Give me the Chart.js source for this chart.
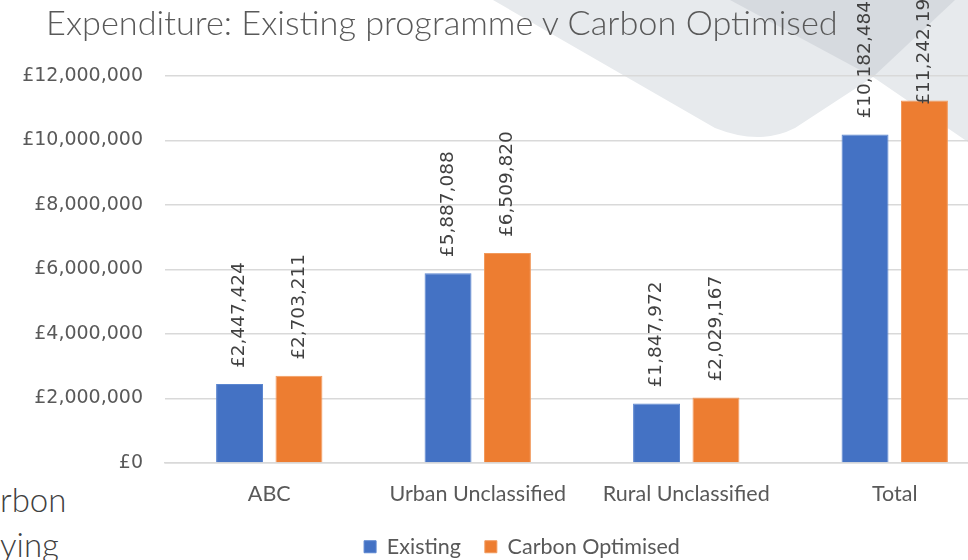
<!DOCTYPE html>
<html>
<head>
<meta charset="utf-8">
<script src="https://cdn.jsdelivr.net/npm/chart.js@4"></script>
<style>
  html, body { margin: 0; padding: 0; background: #fff; }
  body { width: 968px; height: 560px; overflow: hidden; position: relative; }
  #bg { position: absolute; left: 0; top: 0; }
  #wrap { position: absolute; left: 0; top: 0; width: 1044px; height: 560px; }
  #title { position: absolute; left: 46px; top: 1px; font: 300 34.3px Lato, "Open Sans", sans-serif; color: #595959; white-space: nowrap; }
  .side { position: absolute; left: 0; font: 300 33px Lato, "Open Sans", sans-serif; color: #404040; }
</style>
</head>
<body>
<svg id="bg" width="968" height="560">
  <path d="M493,0 L968,0 L968,142 L873,77 L795,128 Q760,146 715,128 Z" fill="#e7eaed"/>
  <path d="M730,0 L955,0 L873,77 Z" fill="#d6dadf"/>
</svg>
<div class="side" style="top:479px">rbon</div>
<div class="side" style="top:524px">ying</div>
<div id="wrap"><canvas id="chart" width="1044" height="560"></canvas></div>
<div id="title">Expenditure: Existing programme v Carbon Optimised</div>
<script>
let categories = ["ABC", "Urban Unclassified", "Rural Unclassified", "Total"]
let existing = [2447424, 5887088, 1847972, 10182484]
let carbonOptimised = [2703211, 6509820, 2029167, 11242198]
let yTicks = [0, 2000000, 4000000, 6000000, 8000000, 10000000, 12000000]

function money(v) {
    return "£" + String(v).replace(/\B(?=(\d{3})+(?!\d))/g, ",")
}

// value labels rotated above each bar, pulled down if they run too far off the top
const barLabels = {
    id: "barLabels",
    afterDatasetsDraw(chart) {
        let ctx = chart.ctx
        ctx.save()
        ctx.font = '18.5px "DejaVu Sans"'
        ctx.fillStyle = "#404040"
        ctx.textAlign = "left"
        ctx.textBaseline = "middle"
        chart.data.datasets.forEach((ds, i) => {
            chart.getDatasetMeta(i).data.forEach((bar, j) => {
                let txt = money(ds.data[j])
                let w = ctx.measureText(txt).width
                let start = Math.max(bar.y - 16, w - 13)
                ctx.save()
                ctx.translate(bar.x, start)
                ctx.rotate(-Math.PI / 2)
                ctx.fillText(txt, 0, 0)
                ctx.restore()
            })
        })
        ctx.restore()
    }
}

new Chart(document.getElementById("chart"), {
    type: "bar",
    data: {
        labels: categories,
        datasets: [{
            label: "Existing",
            data: existing,
            backgroundColor: "#4472C4",
            borderColor: "#5b86d0",
            borderWidth: 1,
            barPercentage: 0.79,
            categoryPercentage: 0.57
        }, {
            label: "Carbon Optimised",
            data: carbonOptimised,
            backgroundColor: "#ED7D31",
            borderColor: "#f29a5c",
            borderWidth: 1,
            barPercentage: 0.79,
            categoryPercentage: 0.57
        }]
    },
    options: {
        responsive: false,
        animation: false,
        devicePixelRatio: 1,
        layout: { padding: { top: 76, left: 0, right: 0, bottom: -7.5 } },
        scales: {
            x: {
                grid: { display: false },
                border: { color: "#d9d9d9", width: 1.5 },
                ticks: { color: "#595959", font: { family: "Lato", size: 21.5 }, padding: 10, maxRotation: 0 },
                afterFit: s => { s.height = 49 }
            },
            y: {
                min: 0,
                max: 12000000,
                afterBuildTicks: s => { s.ticks = yTicks.map(v => ({ value: v })) },
                grid: { color: "#d9d9d9", lineWidth: 1.5, drawTicks: false },
                border: { display: false },
                ticks: { color: "#595959", font: { family: "DejaVu Sans", size: 19 }, padding: 22, callback: v => money(v) },
                afterFit: s => { s.width = 165 }
            },
            // empty right-hand axis, only reserves the space past the plot edge
            spare: {
                position: "right",
                grid: { display: false },
                border: { display: false },
                ticks: { display: false },
                afterFit: s => { s.width = 45 }
            }
        },
        plugins: {
            legend: {
                position: "bottom",
                labels: { boxWidth: 12, boxHeight: 12, padding: 24, color: "#595959", font: { family: "Lato", size: 21.5 } }
            },
            tooltip: { enabled: false }
        }
    },
    plugins: [barLabels]
})
</script>
</body>
</html>
